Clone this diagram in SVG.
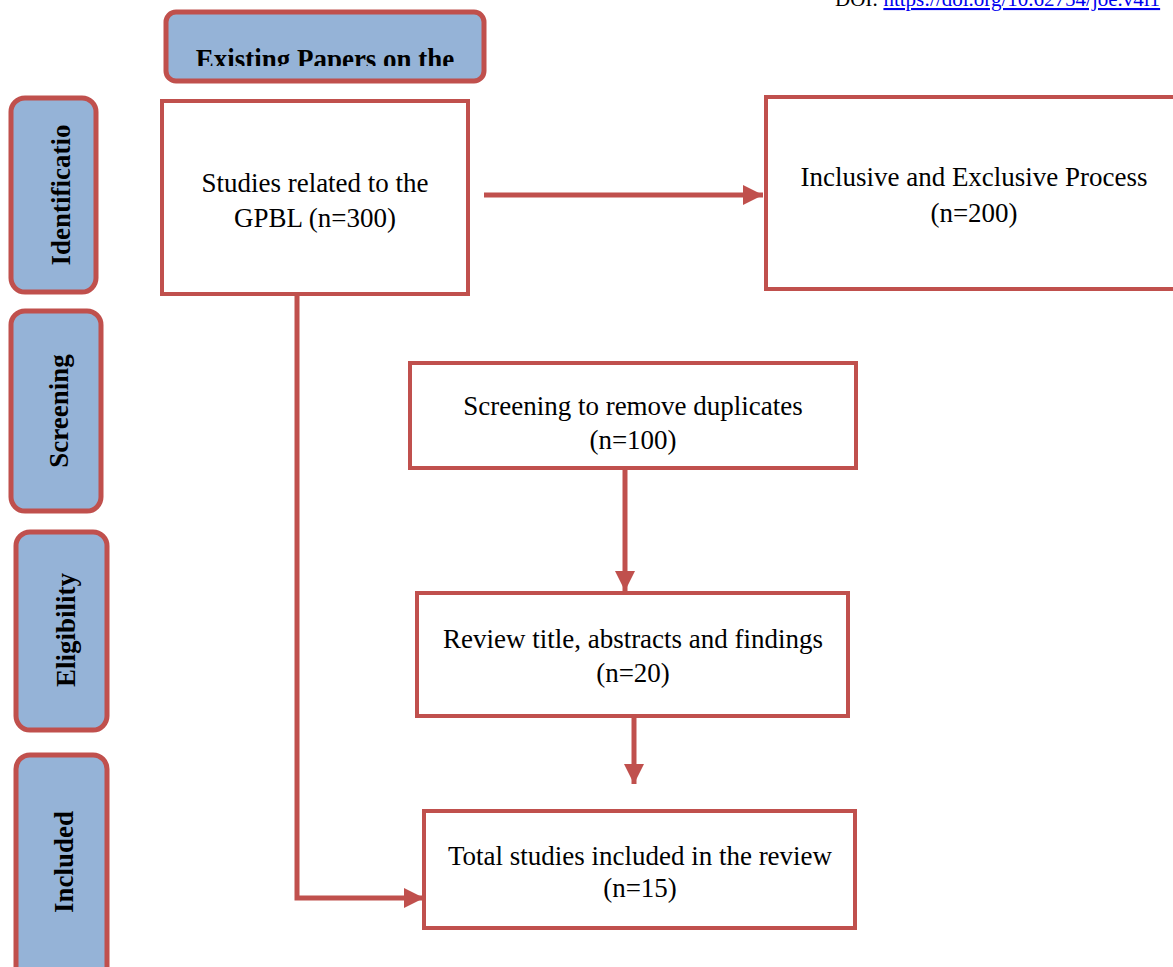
<svg xmlns="http://www.w3.org/2000/svg" width="1173" height="967" viewBox="0 0 1173 967">
<style>
.box{fill:#ffffff;stroke:#C0504D;stroke-width:4}
.side{fill:#95B3D7;stroke:#C0504D;stroke-width:5}
.t{font-family:"Liberation Serif","Times New Roman",serif;font-size:27px;fill:#000;text-anchor:middle}
.b{font-family:"Liberation Serif","Times New Roman",serif;font-size:27px;font-weight:bold;fill:#000;text-anchor:middle}
.c{fill:none;stroke:#C0504D;stroke-width:5}
</style>
<defs>
<marker id="ah" markerWidth="4" markerHeight="4" refX="4" refY="2" orient="auto" markerUnits="strokeWidth">
<path d="M0,0 L4,2 L0,4 z" fill="#C0504D"/>
</marker>
<clipPath id="clipTop"><rect x="160" y="0" width="330" height="66"/></clipPath>
</defs>
<rect width="1173" height="967" fill="#ffffff"/>
<g id="doi">
<text x="835" y="6" font-family="Liberation Serif,serif" font-size="21" fill="#000">DOI: <tspan fill="#0000EE" text-decoration="underline">https://doi.org/10.62754/joe.v4i1</tspan></text>
</g>
<g id="header">
<rect class="side" x="166" y="12" width="318" height="69" rx="10"/>
<g clip-path="url(#clipTop)">
<text class="b" transform="translate(325,69) scale(1,1.1)">Existing Papers on the</text>
</g>
</g>
<g id="identification">
<rect class="side" x="11" y="98" width="85" height="194" rx="14"/>
<text class="b" transform="translate(70,195) rotate(-90)">Identificatio</text>
</g>
<g id="screening-label">
<rect class="side" x="11" y="311" width="90" height="200" rx="14"/>
<text class="b" transform="translate(68,411) rotate(-90)">Screening</text>
</g>
<g id="eligibility">
<rect class="side" x="16" y="532" width="91" height="198" rx="14"/>
<text class="b" transform="translate(75,630) rotate(-90)">Eligibility</text>
</g>
<g id="included">
<rect class="side" x="16" y="755" width="91" height="230" rx="14"/>
<text class="b" transform="translate(73,862) rotate(-90)">Included</text>
</g>
<g id="studies">
<rect class="box" x="162" y="101" width="306" height="193"/>
<text class="t" transform="translate(315,192) scale(1,1.05)">Studies related to the</text>
<text class="t" transform="translate(315,227) scale(1,1.05)">GPBL (n=300)</text>
</g>
<g id="inclusive">
<rect class="box" x="766" y="97" width="420" height="192"/>
<text class="t" transform="translate(974,186) scale(1,1.05)">Inclusive and Exclusive Process</text>
<text class="t" transform="translate(974,222) scale(1,1.05)">(n=200)</text>
</g>
<g id="screening">
<rect class="box" x="410" y="363" width="446" height="105"/>
<text class="t" transform="translate(633,415) scale(1,1.05)">Screening to remove duplicates</text>
<text class="t" transform="translate(633,449) scale(1,1.05)">(n=100)</text>
</g>
<g id="review">
<rect class="box" x="417" y="593" width="431" height="123"/>
<text class="t" transform="translate(633,648) scale(1,1.05)">Review title, abstracts and findings</text>
<text class="t" transform="translate(633,682) scale(1,1.05)">(n=20)</text>
</g>
<g id="total">
<rect class="box" x="424" y="811" width="431" height="117"/>
<text class="t" transform="translate(640,865) scale(1,1.05)">Total studies included in the review</text>
<text class="t" transform="translate(640,897) scale(1,1.05)">(n=15)</text>
</g>
<g id="connectors">
<line class="c" x1="484" y1="195" x2="763" y2="195" marker-end="url(#ah)"/>
<line class="c" x1="625" y1="469" x2="625" y2="591" marker-end="url(#ah)"/>
<line class="c" x1="634" y1="717" x2="634" y2="784" marker-end="url(#ah)"/>
<polyline class="c" points="297,294 297,898 424,898" marker-end="url(#ah)"/>
</g>
</svg>
